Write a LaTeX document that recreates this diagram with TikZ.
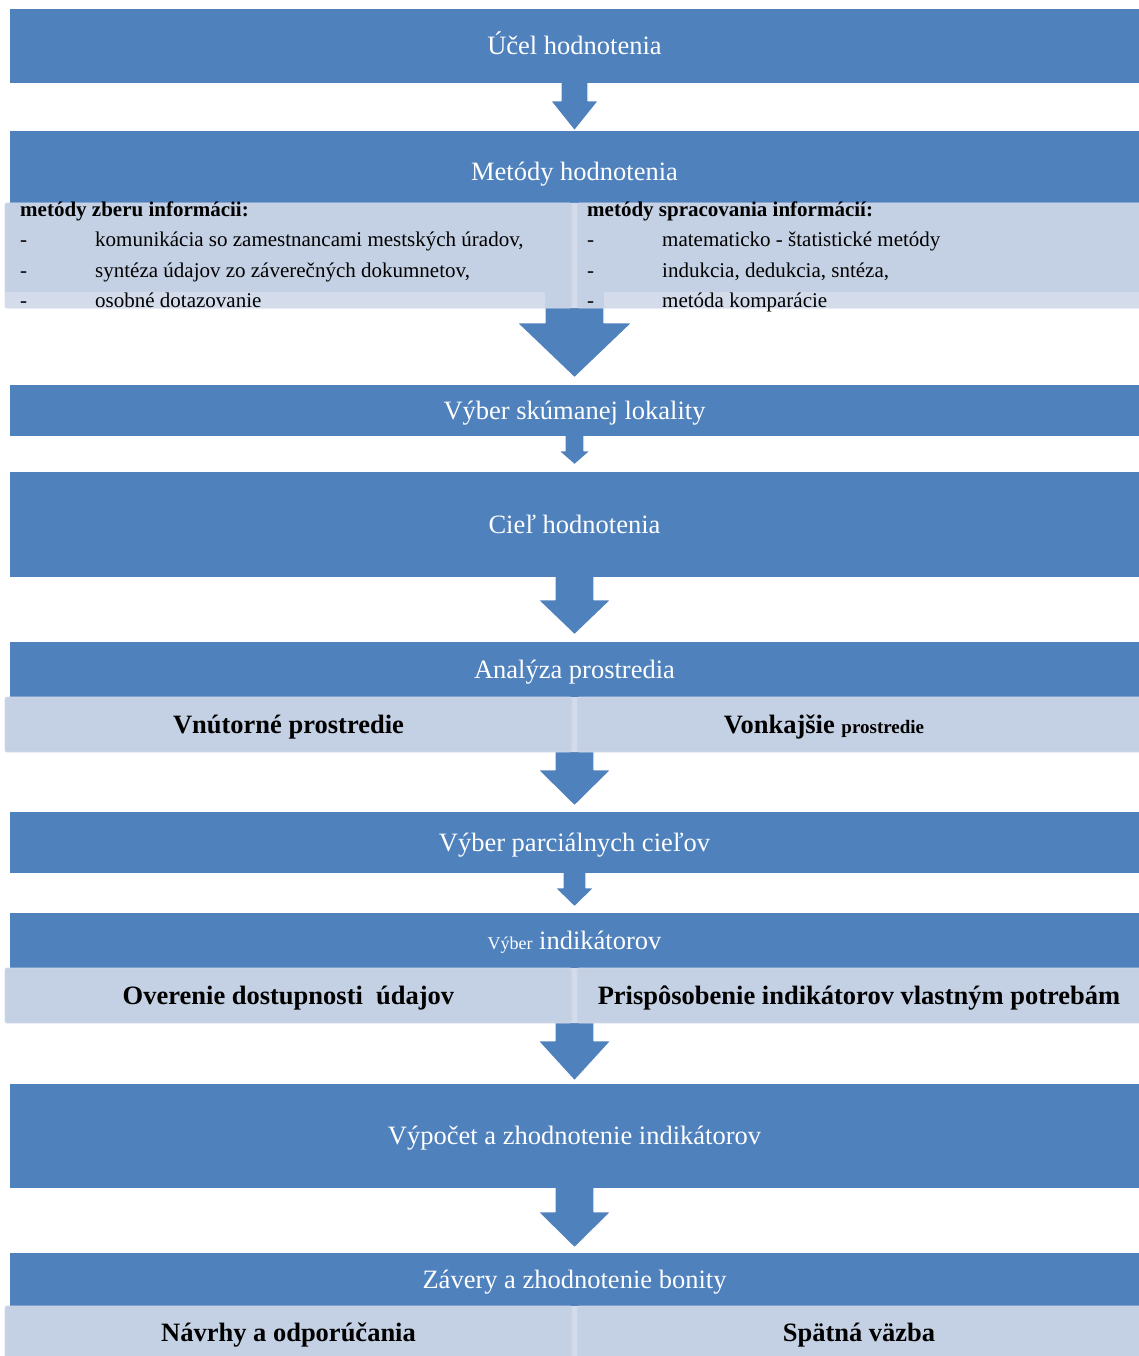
\documentclass[tikz,border=0pt]{standalone}
\usepackage{fontspec}
\setmainfont{Liberation Serif}
\usetikzlibrary{calc,backgrounds}
\definecolor{smblue}{HTML}{4F81BD}
\definecolor{smlight}{HTML}{C4D0E3}
\definecolor{smband}{HTML}{D4DCEC}
\definecolor{smedge}{HTML}{D3DBEB}
\tikzset{
  bluebox/.style={fill=smblue, text=white, inner sep=0pt, minimum width=1129pt, text height=20pt, text depth=2.5pt, font=\fontsize{26.5}{30}\selectfont},
  subbox/.style={fill=smlight, draw=smedge, line width=0.8pt, rounded corners=2pt, inner sep=0pt, text height=20pt, text depth=2.5pt, font=\bfseries\fontsize{26.5}{30}\selectfont},
  band/.style={fill=smband, rounded corners=2pt},
  listtxt/.style={anchor=base west, inner sep=0pt, font=\fontsize{21}{24}\selectfont},
  listhead/.style={listtxt, font=\bfseries\fontsize{21}{24}\selectfont},
  arrowfill/.style={fill=smblue, draw=white, line width=1.2pt, line join=round}
}
% block arrow: from, to, gap, shaft half width, head half width, head length
\newcommand{\blockarr}[6]{%
  \path[arrowfill] let \p1=(#1), \p2=(#2) in
    (\x2-#4,\y1+2pt) -- (\x2+#4,\y1+2pt) -- (\x2+#4,\y2+#3+#6) -- (\x2+#5,\y2+#3+#6)
    -- (\x2,\y2+#3) -- (\x2-#5,\y2+#3+#6) -- (\x2-#4,\y2+#3+#6) -- cycle;}
\begin{document}
\begin{tikzpicture}[x=1pt, y=-1pt]
  \useasboundingbox (0,0) rectangle (1139,1356);
  %%%%%%%%%%%%%%%%%%%%%%%%%%%%%%%%%
  \node[bluebox, minimum height=74pt] (ucel) at (574.5,46) {Účel hodnotenia};
  \node[bluebox, minimum height=82pt] (metody) at (574.5,172) {Metódy hodnotenia};
  \node[bluebox, minimum height=51pt] (vyber) at (574.5,410.5) {Výber skúmanej lokality};
  \node[bluebox, minimum height=105pt] (ciel) at (574.5,524.5) {Cieľ hodnotenia};
  \node[bluebox, minimum height=55pt] (analyza) at (574.5,669.5) {Analýza prostredia};
  \node[bluebox, minimum height=61pt] (parc) at (574.5,842.5) {Výber parciálnych cieľov};
  \node[bluebox, minimum height=55pt] (indik) at (574.5,940.5) {{\fontsize{18}{20}\selectfont Výber} indikátorov};
  \node[bluebox, minimum height=104pt] (vypocet) at (574.5,1136) {Výpočet a zhodnotenie indikátorov};
  \node[bluebox, minimum height=53pt] (zavery) at (574.5,1279.5) {Závery a zhodnotenie bonity};
  %%%%%%%%%%%%%%%%%%%%%%%%%%%%%%%%%
  \fill[band] (570,203) rectangle (579,308);
  \fill[band] (570,697) rectangle (579,752);
  \fill[band] (570,968) rectangle (579,1023);
  \fill[band] (570,1306) rectangle (579,1358);
  \node[subbox, minimum width=567pt, minimum height=105pt] (metL) at (288.5,255.5) {};
  \node[subbox, minimum width=564pt, minimum height=105pt] (metR) at (859,255.5) {};
  \fill[band] (5,292) rectangle (545,308);
  \fill[band] (604,292) rectangle (1141,308);
  \node[subbox, minimum width=567pt, minimum height=55pt] (anaL) at (288.5,724.5) {Vnútorné prostredie};
  \node[subbox, minimum width=564pt, minimum height=55pt] (anaR) at (859,724.5)
    {Vonkajšie {\fontsize{19}{22}\selectfont prostredie}\hspace*{70pt}};
  \node[subbox, minimum width=567pt, minimum height=55pt] (indL) at (288.5,995.5) {Overenie dostupnosti \ údajov};
  \node[subbox, minimum width=564pt, minimum height=55pt] (indR) at (859,995.5) {Prispôsobenie indikátorov vlastným potrebám};
  \node[subbox, minimum width=567pt, minimum height=54pt] (zavL) at (288.5,1333) {Návrhy a odporúčania};
  \node[subbox, minimum width=564pt, minimum height=54pt] (zavR) at (859,1333) {Spätná väzba};
  %%%%%%%%%%%%%%%%%%%%%%%%%%%%%%%%%
  \node[listhead] (zberH) at (20,217) {metódy zberu informácii:};
  \node[listtxt] (zber1d) at (20,247) {-};
  \node[listtxt] (zber1) at (95,247) {komunikácia so zamestnancami mestských úradov,};
  \node[listtxt] (zber2d) at (20,277) {-};
  \node[listtxt] (zber2) at (95,277) {syntéza údajov zo záverečných dokumnetov,};
  \node[listtxt] (zber3d) at (20,307) {-};
  \node[listtxt] (zber3) at (95,307) {osobné dotazovanie};
  \node[listhead] (sprH) at (587,217) {metódy spracovania informácií:};
  \node[listtxt] (spr1d) at (587,247) {-};
  \node[listtxt] (spr1) at (662,247) {matematicko - štatistické metódy};
  \node[listtxt] (spr2d) at (587,277) {-};
  \node[listtxt] (spr2) at (662,277) {indukcia, dedukcia, sntéza,};
  \node[listtxt] (spr3d) at (587,307) {-};
  \node[listtxt] (spr3) at (662,307) {metóda komparácie};
  %%%%%%%%%%%%%%%%%%%%%%%%%%%%%%%%%
  \begin{pgfonlayer}{background}
    \blockarr{ucel.south}{metody.north}{0pt}{13.5pt}{24pt}{30pt}
    \blockarr{metL.south}{vyber.north}{7pt}{29.5pt}{57.5pt}{55pt}
    \blockarr{vyber.south}{ciel.north}{7pt}{9.5pt}{16pt}{14pt}
    \blockarr{ciel.south}{analyza.north}{7pt}{19.5pt}{36.5pt}{35pt}
    \blockarr{anaL.south}{parc.north}{6pt}{19.5pt}{36.5pt}{36pt}
    \blockarr{parc.south}{indik.north}{6pt}{11.5pt}{19.5pt}{19pt}
    \blockarr{indL.south}{vypocet.north}{3pt}{19.5pt}{36.5pt}{40pt}
    \blockarr{vypocet.south}{zavery.north}{5pt}{19.5pt}{36.5pt}{36pt}
  \end{pgfonlayer}
\end{tikzpicture}
\end{document}
